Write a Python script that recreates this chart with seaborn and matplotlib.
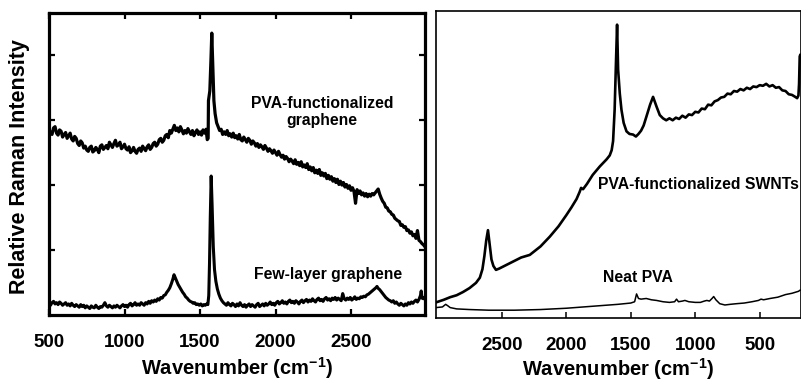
import matplotlib
matplotlib.use("Agg")
import matplotlib.pyplot as plt
import seaborn as sns

# ---------------- data ----------------
# Each series: (wavenumber cm^-1, relative intensity)
# Left panel, upper trace: PVA-functionalized graphene
pva_graphene = [
    (500, 2.86), (510, 2.80), (520, 2.78), (530, 2.88), (540, 2.90), (550, 2.80),
    (560, 2.77), (570, 2.85), (580, 2.83), (590, 2.74), (600, 2.78), (610, 2.81),
    (620, 2.72), (630, 2.76), (640, 2.80), (650, 2.71), (660, 2.68), (670, 2.75),
    (680, 2.72), (690, 2.64), (700, 2.61), (710, 2.68), (720, 2.65), (730, 2.57),
    (740, 2.60), (750, 2.54), (760, 2.52), (770, 2.58), (780, 2.60), (790, 2.51),
    (800, 2.53), (810, 2.58), (820, 2.55), (830, 2.50), (840, 2.60), (850, 2.62),
    (860, 2.55), (870, 2.58), (880, 2.61), (890, 2.56), (900, 2.66), (910, 2.62),
    (920, 2.58), (930, 2.64), (940, 2.69), (950, 2.60), (960, 2.62), (970, 2.66),
    (980, 2.56), (990, 2.59), (1000, 2.63), (1010, 2.56), (1020, 2.54), (1030, 2.59),
    (1040, 2.50), (1050, 2.53), (1060, 2.58), (1070, 2.52), (1080, 2.49), (1090, 2.55),
    (1100, 2.57), (1110, 2.52), (1120, 2.60), (1130, 2.56), (1140, 2.53), (1150, 2.59),
    (1160, 2.62), (1170, 2.55), (1180, 2.58), (1190, 2.64), (1200, 2.66), (1210, 2.60),
    (1220, 2.63), (1230, 2.70), (1240, 2.72), (1250, 2.66), (1260, 2.69), (1270, 2.76),
    (1280, 2.78), (1290, 2.73), (1300, 2.84), (1310, 2.80), (1320, 2.86), (1330, 2.92),
    (1340, 2.84), (1350, 2.88), (1360, 2.82), (1370, 2.90), (1380, 2.85), (1390, 2.79),
    (1400, 2.84), (1410, 2.80), (1420, 2.87), (1430, 2.82), (1440, 2.78), (1450, 2.84),
    (1460, 2.76), (1470, 2.81), (1480, 2.85), (1490, 2.78), (1500, 2.82), (1510, 2.77),
    (1520, 2.85), (1530, 2.80), (1540, 2.86), (1548, 2.70), (1554, 2.72), (1556, 3.30),
    (1565, 3.45), (1572, 3.90), (1578, 4.34), (1585, 3.80), (1592, 3.30), (1600, 3.10),
    (1610, 2.96), (1620, 2.90), (1630, 2.84), (1640, 2.86), (1650, 2.78), (1660, 2.82),
    (1670, 2.78), (1680, 2.84), (1690, 2.76), (1700, 2.79), (1710, 2.74), (1720, 2.80),
    (1730, 2.73), (1740, 2.76), (1750, 2.71), (1760, 2.78), (1770, 2.70), (1780, 2.68),
    (1790, 2.74), (1800, 2.70), (1810, 2.66), (1820, 2.72), (1830, 2.69), (1840, 2.63),
    (1850, 2.68), (1860, 2.65), (1870, 2.60), (1880, 2.64), (1890, 2.58), (1900, 2.62),
    (1910, 2.59), (1920, 2.55), (1930, 2.61), (1940, 2.57), (1950, 2.52), (1960, 2.56),
    (1970, 2.53), (1980, 2.49), (1990, 2.54), (2000, 2.50), (2010, 2.46), (2020, 2.52),
    (2030, 2.47), (2040, 2.43), (2050, 2.46), (2060, 2.40), (2070, 2.44), (2080, 2.41),
    (2090, 2.36), (2100, 2.40), (2110, 2.37), (2120, 2.33), (2130, 2.39), (2140, 2.32),
    (2150, 2.35), (2160, 2.30), (2170, 2.36), (2180, 2.28), (2190, 2.31), (2200, 2.27),
    (2210, 2.33), (2220, 2.24), (2230, 2.28), (2240, 2.22), (2250, 2.27), (2260, 2.19),
    (2270, 2.23), (2280, 2.18), (2290, 2.24), (2300, 2.15), (2310, 2.19), (2320, 2.14),
    (2330, 2.18), (2340, 2.10), (2350, 2.15), (2360, 2.09), (2370, 2.13), (2380, 2.06),
    (2390, 2.10), (2400, 2.04), (2410, 2.09), (2420, 2.01), (2430, 2.06), (2440, 2.00),
    (2450, 2.04), (2460, 1.97), (2470, 2.01), (2480, 1.95), (2490, 1.99), (2500, 1.92),
    (2510, 1.96), (2520, 1.90), (2530, 1.72), (2540, 1.93), (2550, 1.87), (2560, 1.91),
    (2570, 1.85), (2580, 1.88), (2590, 1.83), (2600, 1.87), (2610, 1.82), (2620, 1.86),
    (2630, 1.83), (2640, 1.87), (2650, 1.85), (2660, 1.88), (2670, 1.91), (2680, 1.94),
    (2690, 1.86), (2700, 1.80), (2710, 1.75), (2720, 1.72), (2730, 1.66), (2740, 1.65),
    (2750, 1.60), (2760, 1.59), (2770, 1.55), (2780, 1.54), (2790, 1.49), (2800, 1.47),
    (2810, 1.45), (2820, 1.44), (2830, 1.38), (2840, 1.39), (2850, 1.35), (2860, 1.36),
    (2870, 1.30), (2880, 1.31), (2890, 1.26), (2900, 1.28), (2910, 1.22), (2920, 1.24),
    (2930, 1.18), (2940, 1.30), (2950, 1.15), (2960, 1.13), (2970, 1.10), (2980, 1.08),
    (2990, 1.05)]

# Left panel, lower trace: few-layer graphene
few_layer = [
    (500, 0.18), (510, 0.15), (520, 0.19), (530, 0.21), (540, 0.17), (550, 0.19),
    (560, 0.16), (570, 0.20), (580, 0.18), (590, 0.15), (600, 0.17), (610, 0.19),
    (620, 0.15), (630, 0.17), (640, 0.14), (650, 0.18), (660, 0.15), (670, 0.13),
    (680, 0.16), (690, 0.14), (700, 0.12), (710, 0.16), (720, 0.13), (730, 0.15),
    (740, 0.11), (750, 0.14), (760, 0.12), (770, 0.10), (780, 0.14), (790, 0.12),
    (800, 0.11), (810, 0.15), (820, 0.12), (830, 0.10), (840, 0.13), (850, 0.12),
    (860, 0.15), (870, 0.19), (880, 0.14), (890, 0.12), (900, 0.15), (910, 0.13),
    (920, 0.11), (930, 0.14), (940, 0.12), (950, 0.15), (960, 0.13), (970, 0.11),
    (980, 0.14), (990, 0.16), (1000, 0.13), (1010, 0.15), (1020, 0.12), (1030, 0.16),
    (1040, 0.18), (1050, 0.14), (1060, 0.16), (1070, 0.19), (1080, 0.15), (1090, 0.17),
    (1100, 0.15), (1110, 0.19), (1120, 0.17), (1130, 0.15), (1140, 0.19), (1150, 0.17),
    (1160, 0.21), (1170, 0.18), (1180, 0.22), (1190, 0.20), (1200, 0.23), (1210, 0.21),
    (1220, 0.25), (1230, 0.23), (1240, 0.27), (1250, 0.26), (1260, 0.30), (1270, 0.31),
    (1280, 0.35), (1290, 0.38), (1300, 0.42), (1310, 0.48), (1320, 0.55), (1328, 0.62),
    (1335, 0.58), (1345, 0.52), (1355, 0.47), (1365, 0.43), (1375, 0.39), (1385, 0.35),
    (1395, 0.32), (1405, 0.28), (1415, 0.26), (1425, 0.23), (1435, 0.21), (1445, 0.20),
    (1455, 0.18), (1465, 0.19), (1475, 0.16), (1485, 0.17), (1495, 0.15), (1505, 0.17),
    (1515, 0.14), (1525, 0.16), (1535, 0.15), (1545, 0.17), (1552, 0.16), (1558, 0.30),
    (1563, 0.80), (1568, 1.50), (1574, 2.14), (1580, 1.70), (1588, 1.05), (1596, 0.70),
    (1605, 0.52), (1615, 0.40), (1625, 0.32), (1635, 0.26), (1645, 0.22), (1655, 0.19),
    (1665, 0.17), (1675, 0.15), (1685, 0.19), (1695, 0.16), (1705, 0.14), (1715, 0.18),
    (1725, 0.16), (1735, 0.13), (1745, 0.17), (1755, 0.14), (1765, 0.19), (1775, 0.15),
    (1785, 0.13), (1795, 0.16), (1805, 0.12), (1815, 0.15), (1825, 0.17), (1835, 0.13),
    (1845, 0.16), (1855, 0.14), (1865, 0.12), (1875, 0.16), (1885, 0.18), (1895, 0.13),
    (1905, 0.15), (1915, 0.17), (1925, 0.14), (1935, 0.18), (1945, 0.15), (1955, 0.17),
    (1965, 0.20), (1975, 0.16), (1985, 0.18), (1995, 0.15), (2005, 0.19), (2015, 0.21),
    (2025, 0.17), (2035, 0.19), (2045, 0.22), (2055, 0.18), (2065, 0.20), (2075, 0.17),
    (2085, 0.21), (2095, 0.23), (2105, 0.19), (2115, 0.21), (2125, 0.18), (2135, 0.22),
    (2145, 0.20), (2155, 0.17), (2165, 0.21), (2175, 0.23), (2185, 0.19), (2195, 0.22),
    (2205, 0.24), (2215, 0.20), (2225, 0.23), (2235, 0.21), (2245, 0.25), (2255, 0.22),
    (2265, 0.20), (2275, 0.24), (2285, 0.26), (2295, 0.22), (2305, 0.24), (2315, 0.21),
    (2325, 0.25), (2335, 0.27), (2345, 0.23), (2355, 0.25), (2365, 0.22), (2375, 0.26),
    (2385, 0.24), (2395, 0.27), (2405, 0.23), (2415, 0.26), (2425, 0.24), (2435, 0.22),
    (2445, 0.33), (2455, 0.25), (2465, 0.23), (2475, 0.26), (2485, 0.24), (2495, 0.27),
    (2505, 0.23), (2515, 0.25), (2525, 0.28), (2535, 0.24), (2545, 0.26), (2555, 0.25),
    (2565, 0.28), (2575, 0.27), (2585, 0.29), (2595, 0.28), (2605, 0.31), (2615, 0.32),
    (2625, 0.34), (2635, 0.36), (2645, 0.38), (2655, 0.40), (2665, 0.42), (2672, 0.44),
    (2680, 0.41), (2690, 0.39), (2700, 0.36), (2710, 0.33), (2720, 0.30), (2730, 0.27),
    (2740, 0.25), (2750, 0.23), (2760, 0.22), (2770, 0.20), (2780, 0.22), (2790, 0.18),
    (2800, 0.20), (2810, 0.17), (2820, 0.15), (2830, 0.18), (2840, 0.16), (2850, 0.14),
    (2860, 0.17), (2870, 0.15), (2880, 0.19), (2890, 0.17), (2900, 0.20), (2910, 0.18),
    (2920, 0.21), (2930, 0.23), (2940, 0.20), (2950, 0.24), (2960, 0.30), (2965, 0.37),
    (2970, 0.26), (2980, 0.25), (2990, 0.28)]

# Right panel: PVA-functionalized SWNTs
swnt = [
    (3010, 0.24), (2950, 0.28), (2900, 0.32), (2850, 0.35), (2800, 0.40), (2750, 0.46),
    (2700, 0.54), (2670, 0.62), (2650, 0.75), (2635, 0.95), (2620, 1.20), (2607, 1.35),
    (2595, 1.15), (2580, 0.90), (2565, 0.80), (2545, 0.74), (2520, 0.76), (2490, 0.79),
    (2450, 0.83), (2400, 0.88), (2350, 0.93), (2283, 0.97), (2200, 1.10), (2128, 1.25),
    (2060, 1.41), (2000, 1.58), (1960, 1.70), (1920, 1.83), (1896, 1.94), (1885, 2.00),
    (1870, 1.98), (1840, 2.06), (1795, 2.20), (1740, 2.33), (1687, 2.44), (1663, 2.50),
    (1648, 2.58), (1637, 2.72), (1625, 3.20), (1615, 3.90), (1606, 4.51), (1598, 3.82),
    (1585, 3.45), (1572, 3.20), (1555, 3.00), (1533, 2.87), (1510, 2.83), (1482, 2.82),
    (1460, 2.79), (1440, 2.83), (1420, 2.88), (1400, 2.96), (1378, 3.10), (1350, 3.28),
    (1327, 3.40), (1300, 3.25), (1275, 3.12), (1250, 3.07), (1225, 3.04), (1200, 3.07),
    (1175, 3.04), (1150, 3.08), (1125, 3.06), (1100, 3.11), (1075, 3.08), (1050, 3.13),
    (1025, 3.12), (1000, 3.17), (975, 3.16), (950, 3.22), (925, 3.21), (900, 3.28),
    (875, 3.27), (850, 3.33), (825, 3.35), (800, 3.39), (775, 3.40), (750, 3.45),
    (725, 3.44), (700, 3.49), (675, 3.48), (650, 3.52), (625, 3.50), (600, 3.54),
    (575, 3.52), (550, 3.56), (525, 3.55), (500, 3.58), (475, 3.57), (450, 3.60),
    (425, 3.56), (400, 3.58), (375, 3.54), (350, 3.55), (325, 3.50), (300, 3.49),
    (275, 3.44), (250, 3.43), (225, 3.40), (210, 3.38), (200, 3.42), (195, 3.60),
    (190, 4.02), (185, 4.05)]

# Right panel: neat PVA
neat_pva = [
    (3010, 0.16), (2960, 0.17), (2935, 0.21), (2920, 0.19), (2900, 0.16), (2850, 0.14),
    (2750, 0.13), (2600, 0.12), (2400, 0.12), (2200, 0.13), (2000, 0.15), (1800, 0.18),
    (1600, 0.21), (1500, 0.23), (1470, 0.25), (1455, 0.37), (1440, 0.30), (1420, 0.29),
    (1380, 0.30), (1340, 0.28), (1300, 0.27), (1250, 0.25), (1200, 0.24), (1160, 0.25),
    (1145, 0.29), (1130, 0.25), (1100, 0.26), (1080, 0.27), (1050, 0.25), (1000, 0.24),
    (960, 0.24), (930, 0.26), (910, 0.27), (890, 0.26), (870, 0.30), (857, 0.33),
    (840, 0.28), (810, 0.22), (770, 0.20), (730, 0.21), (680, 0.22), (620, 0.23),
    (560, 0.25), (510, 0.27), (490, 0.29), (470, 0.28), (420, 0.30), (360, 0.32),
    (300, 0.36), (250, 0.38), (200, 0.41), (185, 0.43)]

left_ticks = [500, 1000, 1500, 2000, 2500]
right_ticks = [2500, 2000, 1500, 1000, 500]
y_ticks = [1, 2, 3, 4]

# ---------------- style ----------------
sns.set_style("ticks")
plt.rcParams['font.family'] = ['Liberation Sans', 'DejaVu Sans']
plt.rcParams['font.weight'] = 'bold'
plt.rcParams['axes.labelweight'] = 'bold'
for key in ['text.color', 'axes.labelcolor', 'xtick.color', 'ytick.color',
            'axes.edgecolor']:
    plt.rcParams[key] = 'black'
plt.rcParams['mathtext.fontset'] = 'custom'
plt.rcParams['mathtext.rm'] = 'Liberation Sans:bold'
plt.rcParams['mathtext.bf'] = 'Liberation Sans:bold'
plt.rcParams['mathtext.it'] = 'Liberation Sans:bold'


def draw(series, ax, lw):
    wn = [p[0] for p in series]
    val = [p[1] for p in series]
    sns.lineplot(x=wn, y=val, ax=ax, color='black', linewidth=lw,
                 estimator=None, sort=False)


W, H = 801, 383
fig = plt.figure(figsize=(W / 100, H / 100), dpi=100)
axL = fig.add_axes([49 / W, 1 - 315 / H, (425 - 49) / W, (315 - 13) / H])
axR = fig.add_axes([436 / W, 1 - 318 / H, (801 - 436) / W, (318 - 11) / H])

# ---------------- left panel ----------------
draw(pva_graphene, axL, 2.3)
draw(few_layer, axL, 2.2)
axL.set_xlim(500, 2990)
axL.set_ylim(0, 4.65)
axL.set_xticks(left_ticks)
axL.set_xticklabels([str(t) for t in left_ticks])
axL.set_yticks(y_ticks)
axL.tick_params(direction='in', top=True, right=True, length=4, width=1.6,
                labelsize=13.5, pad=14, labelleft=False)
for s in axL.spines.values():
    s.set_linewidth(2.3)
axL.set_xlabel(r'Wavenumber (cm$^{-1}$)', fontsize=14.5, fontweight='bold')
axL.xaxis.set_label_coords(0.5, -0.133)
axL.set_ylabel('Relative Raman Intensity', fontsize=15.5, fontweight='bold')
axL.yaxis.set_label_coords(-0.05, 0.49)
axL.text(2308, 3.12, 'PVA-functionalized\ngraphene', ha='center', va='center',
         fontsize=11.3, fontweight='bold', linespacing=1.15)
axL.text(2348, 0.63, 'Few-layer graphene', ha='center', va='center',
         fontsize=11.3, fontweight='bold')

# ---------------- right panel ----------------
draw(swnt, axR, 1.9)
draw(neat_pva, axR, 1.1)
axR.set_xlim(3010, 180)
axR.set_ylim(0, 4.72)
axR.set_xticks(right_ticks)
axR.set_xticklabels([str(t) for t in right_ticks])
axR.set_yticks([])
axR.tick_params(axis='x', direction='in', length=4, width=1.1,
                labelsize=13.5, pad=14)
for s in axR.spines.values():
    s.set_linewidth(1.2)
axR.set_xlabel(r'Wavenumber (cm$^{-1}$)', fontsize=14.5, fontweight='bold')
axR.xaxis.set_label_coords(0.5, -0.124)
axR.set_ylabel('')
axR.text(1756, 2.05, 'PVA-functionalized SWNTs', ha='left', va='center',
         fontsize=11.3, fontweight='bold')
axR.text(1717, 0.63, 'Neat PVA', ha='left', va='center',
         fontsize=11.3, fontweight='bold')

fig.savefig('out.png', dpi=100)
